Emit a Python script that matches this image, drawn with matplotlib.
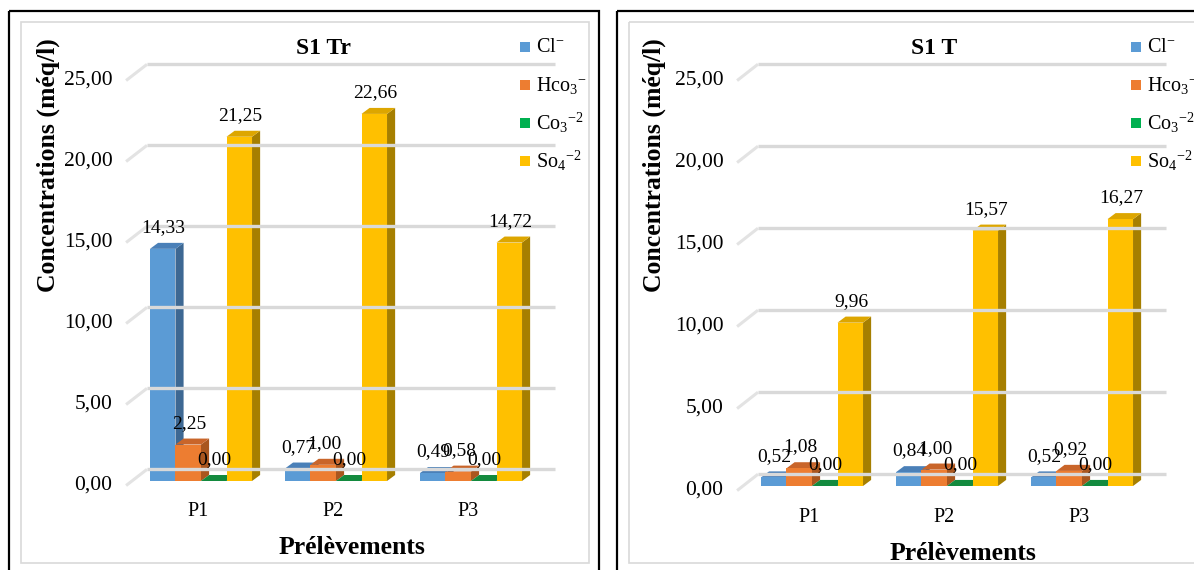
import numpy as np
import matplotlib.pyplot as plt
from matplotlib.patches import Rectangle, Polygon

plt.rcParams['font.family'] = ['Liberation Serif', 'DejaVu Serif']
plt.rcParams['mathtext.fontset'] = 'custom'
plt.rcParams['mathtext.rm'] = 'Liberation Serif'
plt.rcParams['mathtext.it'] = 'Liberation Serif:italic'
plt.rcParams['mathtext.bf'] = 'Liberation Serif:bold'

cats = ['P1', 'P2', 'P3']
ions = ['Cl$^{-}$', 'Hco$_3$$^{-}$', 'Co$_3$$^{-2}$', 'So$_4$$^{-2}$']
yticks = [0, 5, 10, 15, 20, 25]

# S1 Tr
tr_cl = [14.33, 0.77, 0.49]
tr_hco3 = [2.25, 1.00, 0.58]
tr_co3 = [0.00, 0.00, 0.00]
tr_so4 = [21.25, 22.66, 14.72]

# S1 T
t_cl = [0.52, 0.84, 0.52]
t_hco3 = [1.08, 1.00, 0.92]
t_co3 = [0.00, 0.00, 0.00]
t_so4 = [9.96, 15.57, 16.27]

# front, side, top
cols = [('#5B9BD5', '#3D6893', '#4A80B8'),
        ('#ED7D31', '#A9561E', '#C9652A'),
        ('#00B050', '#007A38', '#138A3E'),
        ('#FFC000', '#A67F00', '#DDA600')]

W, H = 1194, 570
fig = plt.figure(figsize=(W / 100, H / 100), dpi=100)
bg = fig.add_axes([0, 0, 1, 1])
bg.set_xlim(0, W)
bg.set_ylim(H, 0)
bg.axis('off')


def fmt(v):
    return f'{v:.2f}'.replace('.', ',')


def bar3d(ax, x0, v, w, dx, dy, c):
    front, side, top = c
    ax.add_patch(Polygon([(x0 + w, 0), (x0 + w + dx, dy), (x0 + w + dx, v + dy), (x0 + w, v)],
                         closed=True, fc=side, lw=0))
    ax.add_patch(Polygon([(x0, v), (x0 + dx, v + dy), (x0 + w + dx, v + dy), (x0 + w, v)],
                         closed=True, fc=top, lw=0))
    ax.add_patch(Rectangle((x0, 0), w, v, fc=front, lw=0))


def panel(title, data, p1x, y0, k, left, right, ylab_x, xlab_y):
    step = 135.0
    # borders
    bg.add_patch(Rectangle((left, 11), right - left, 600, fill=False, ec='black', lw=1.6))
    bg.add_patch(Rectangle((left + 12, 22), right - left - 22, 541, fill=False, ec='#D9D9D9', lw=1.2))

    L, T, R, B = p1x - 110, 30, p1x + 390, 540
    ax = fig.add_axes([L / W, 1 - B / H, (R - L) / W, (B - T) / H])
    ax.set_xlim((L - p1x) / step, (R - p1x) / step)
    ax.set_ylim((y0 - B) / k, (y0 - T) / k)
    ax.axis('off')
    ax.patch.set_alpha(0)

    gy = 0.72
    for v in yticks:
        ax.plot([-0.40, 2.62], [v + gy, v + gy], color='#D9D9D9', lw=2.4, solid_capstyle='butt')
        ax.plot([-0.555, -0.40], [v - 0.28, v + gy], color='#E3E3E3', lw=2.2, solid_capstyle='butt')
        ax.text(-0.655, v - 0.25, fmt(v), ha='right', va='center', fontsize=15.5)

    w = 0.189
    dx, dy = 0.06, 0.37
    x = np.arange(len(cats))
    for j in range(len(cats)):
        for i, vals in enumerate(data):
            x0 = x[j] - 2 * w + i * w
            bar3d(ax, x0, vals[j], w, dx, dy, cols[i])
    for j in range(len(cats)):
        for i, vals in enumerate(data):
            ax.text(x[j] + (i - 1.5) * w + 0.005, vals[j] + 1.3, fmt(vals[j]),
                    ha='center', va='center', fontsize=14)
        ax.text(x[j] - 0.02, -1.9, cats[j], ha='center', va='center', fontsize=14.5)

    # titles
    bg.text(p1x + 122, 49, title, ha='center', va='center', fontsize=17, fontweight='bold')
    bg.text(p1x + 151, xlab_y, 'Prélèvements', ha='center', va='center',
            fontsize=18.5, fontweight='bold')
    bg.text(ylab_x, 165, 'Concentrations (méq/l)', ha='center', va='center',
            rotation=90, fontsize=18.5, fontweight='bold')
    # legend
    for i, lab in enumerate(ions):
        cy = 47 + i * 38
        bg.add_patch(Rectangle((p1x + 319, cy - 5), 10, 10, fc=cols[i][0], lw=0))
        bg.text(p1x + 335, cy, lab, ha='left', va='center', fontsize=14.5)


panel('S1 Tr', [tr_cl, tr_hco3, tr_co3, tr_so4], 201, 481, 16.2, 9, 599, 48, 547)
panel('S1 T', [t_cl, t_hco3, t_co3, t_so4], 812, 486, 16.4, 617, 1260, 654, 553)

fig.savefig('out.png', dpi=100)
